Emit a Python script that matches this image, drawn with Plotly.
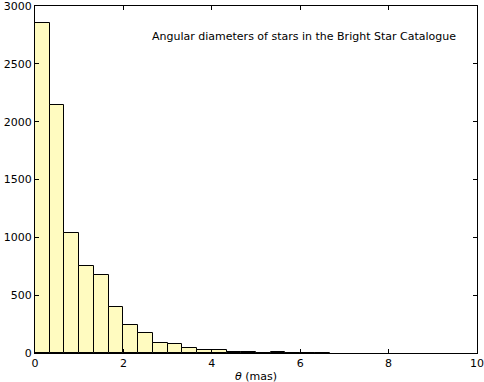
import plotly.graph_objects as go

# histogram of angular diameters, bin width 1/3 mas
bin_width = 1.0 / 3.0
counts = [2855, 2145, 1037, 750, 677, 400, 245, 172, 85, 75,
          42, 25, 24, 12, 10, 2, 8, 3, 2, 2]
centers = [(i + 0.5) * bin_width for i in range(len(counts))]

x_ticks = [0, 2, 4, 6, 8, 10]
y_ticks = [0, 500, 1000, 1500, 2000, 2500, 3000]

fig = go.Figure()
fig.add_trace(go.Bar(
    x=centers, y=counts, width=bin_width,
    marker=dict(color="#fffbc0", line=dict(color="black", width=1)),
    showlegend=False, hoverinfo="skip",
))

axis_style = dict(
    showline=True, linecolor="black", linewidth=1, mirror="ticks",
    ticks="inside", ticklen=4, tickcolor="black", showgrid=False,
    zeroline=False, automargin=False, ticklabeloverflow="allow",
    tickfont=dict(family="DejaVu Sans", size=11, color="black"),
)
fig.update_xaxes(range=[0, 10], tickvals=x_ticks, **axis_style)
fig.update_yaxes(range=[0, 3000], tickvals=y_ticks, **axis_style)

fig.add_annotation(
    text="Angular diameters of stars in the Bright Star Catalogue",
    xref="paper", yref="paper", x=0.957, y=0.911,
    xanchor="right", yanchor="middle", showarrow=False,
    font=dict(family="DejaVu Sans", size=11, color="black"),
)
fig.add_annotation(
    text="<i>θ</i> (mas)", xref="paper", yref="paper", x=0.5, y=-0.068,
    xanchor="center", yanchor="middle", showarrow=False,
    font=dict(family="DejaVu Sans", size=11, color="black"),
)

fig.update_layout(
    width=484, height=382,
    margin=dict(l=35, r=7, t=6, b=29),
    plot_bgcolor="white", paper_bgcolor="white",
    bargap=0,
)
# page body has a default 8px margin, drop it so the figure fills the window
fig.write_html("out.html", config={"displayModeBar": False},
               post_script="document.body.style.margin='0';")
